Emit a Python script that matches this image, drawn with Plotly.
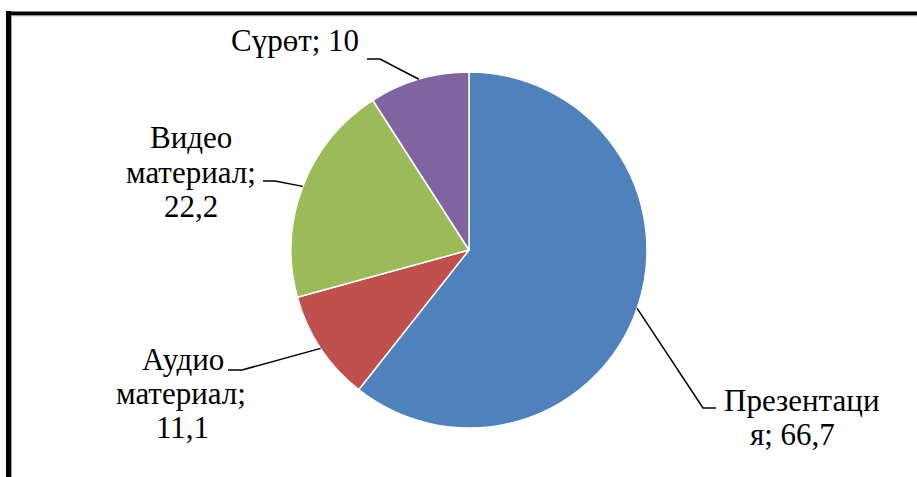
import math
import plotly.graph_objects as go

# ---- data ----
categories = ["Презентация", "Аудио материал", "Видео материал", "Сүрөт"]
values = [66.7, 11.1, 22.2, 10]
value_labels = ["66,7", "11,1", "22,2", "10"]
label_lines = [
    ["Презентаци", "я; 66,7"],
    ["Аудио", "материал;", "11,1"],
    ["Видео", "материал;", "22,2"],
    ["Сүрөт; 10"],
]
colors = ["#4F81BD", "#C0504D", "#9BBB59", "#8064A2"]

W, H = 917, 477
CX, CY, R = 469, 250, 178  # pie centre / radius in pixels

def px(x):
    return x / W

def py(y):
    return 1 - y / H

fig = go.Figure()
fig.add_trace(go.Pie(
    labels=categories,
    values=values,
    sort=False,
    direction="clockwise",
    rotation=0,
    textinfo="none",
    hoverinfo="label+value",
    marker=dict(colors=colors, line=dict(color="white", width=1.5)),
    domain=dict(x=[px(CX - R), px(CX + R)], y=[py(CY + R), py(CY - R)]),
    showlegend=False,
))

# label placement (pixels): per-line centre x, baselines
label_pos = [
    dict(xs=[801, 792], bases=[410, 444]),
    dict(xs=[183, 181, 182], bases=[369, 403, 437]),
    dict(xs=[191, 191, 191], bases=[147, 182, 216]),
    dict(xs=[295], bases=[50]),
]
# leader elbows (pixels): elbow point then end point
leader = [
    [(703, 408), (716, 408)],
    [(242, 370), (228, 370)],
    [(275, 181), (263, 181)],
    [(380, 59), (367, 59)],
]

FS = 31
font = dict(family="Times New Roman", size=FS, color="black")
annotations = []
for lines, pos in zip(label_lines, label_pos):
    for t, x, b in zip(lines, pos["xs"], pos["bases"]):
        annotations.append(dict(
            x=px(x), y=py(b - 0.31 * FS), xref="paper", yref="paper",
            text=t, showarrow=False, xanchor="center", yanchor="middle",
            font=font,
        ))

shapes = []
total = sum(values)
cum = 0
for v, pts in zip(values, leader):
    mid = (cum + v / 2) / total * 2 * math.pi
    cum += v
    sx = CX + R * math.sin(mid)
    sy = CY - R * math.cos(mid)
    allp = [(sx, sy)] + pts
    path = "M " + " L ".join(f"{px(a):.5f},{py(b):.5f}" for a, b in allp)
    shapes.append(dict(type="path", path=path, xref="paper", yref="paper",
                       line=dict(color="black", width=1.5)))

# outer frame (left & top visible)
shapes += [
    dict(type="line", xref="paper", yref="paper", x0=px(8.5), x1=px(8.5), y0=py(11), y1=py(490),
         line=dict(color="black", width=5)),
    dict(type="line", xref="paper", yref="paper", x0=px(6), x1=px(930), y0=py(13.5), y1=py(13.5),
         line=dict(color="black", width=4)),
    dict(type="line", xref="paper", yref="paper", x0=px(11.5), x1=px(11.5), y0=py(15.5), y1=py(490),
         line=dict(color="#A0A0A0", width=1)),
    dict(type="line", xref="paper", yref="paper", x0=px(11), x1=px(930), y0=py(15.8), y1=py(15.8),
         line=dict(color="#A0A0A0", width=1)),
]

fig.update_layout(
    width=W, height=H,
    margin=dict(l=0, r=0, t=0, b=0),
    paper_bgcolor="white",
    plot_bgcolor="white",
    annotations=annotations,
    shapes=shapes,
)

fig.write_html(
    "out.html",
    config={"displayModeBar": False},
    post_script="document.body.style.margin='0';document.body.style.overflow='hidden';",
)
